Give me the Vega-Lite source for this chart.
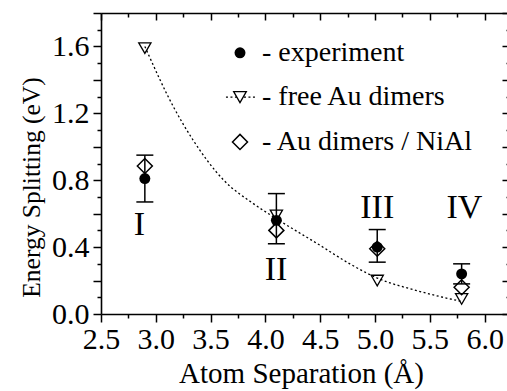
{
  "$schema": "https://vega.github.io/schema/vega-lite/v6.json",
  "autosize": {"type": "none"},
  "padding": {"left": 101, "top": 13, "right": 0, "bottom": 77},
  "width": 407,
  "height": 301,
  "background": "white",
  "config": {
    "view": {"stroke": null},
    "axis": {
      "grid": false,
      "tickColor": "black",
      "tickWidth": 1.5,
      "domainColor": "black",
      "domainWidth": 1.6,
      "labelFont": "Liberation Serif",
      "labelFontSize": 30,
      "labelColor": "black",
      "labelFlush": false,
      "labelOverlap": false,
      "titleFont": "Liberation Serif",
      "titleFontSize": 29,
      "titleFontWeight": "normal",
      "titleColor": "black"
    },
    "axisLeft": {
      "titleFontSize": 25.5,
      "titleX": -62,
      "titleY": 174,
      "titleAngle": -90,
      "titleBaseline": "alphabetic",
      "titleAlign": "center"
    }
  },
  "datasets": {
    "exp": [
      {"x": 2.9, "y": 0.81, "lo": 0.67, "hi": 0.95},
      {"x": 4.1, "y": 0.56, "lo": 0.42, "hi": 0.72},
      {"x": 5.02, "y": 0.40, "lo": 0.31, "hi": 0.505},
      {"x": 5.79, "y": 0.24, "lo": 0.18, "hi": 0.30}
    ],
    "free": [
      {"x": 2.9, "y": 1.59},
      {"x": 4.1, "y": 0.59},
      {"x": 5.02, "y": 0.20},
      {"x": 5.79, "y": 0.09}
    ],
    "nial": [
      {"x": 2.9, "y": 0.885},
      {"x": 4.1, "y": 0.50},
      {"x": 5.02, "y": 0.39},
      {"x": 5.79, "y": 0.16}
    ],
    "curve": [
      {"x": 2.9, "y": 1.60},
      {"x": 3.16, "y": 1.24},
      {"x": 3.34, "y": 1.04},
      {"x": 3.62, "y": 0.80},
      {"x": 3.89, "y": 0.66},
      {"x": 4.1, "y": 0.57},
      {"x": 4.5, "y": 0.41},
      {"x": 4.77, "y": 0.30},
      {"x": 5.02, "y": 0.215},
      {"x": 5.38, "y": 0.14},
      {"x": 5.79, "y": 0.075}
    ],
    "numerals": [
      {"x": 2.85, "y": 0.531, "t": "I"},
      {"x": 4.097, "y": 0.263, "t": "II"},
      {"x": 5.02, "y": 0.631, "t": "III"},
      {"x": 5.815, "y": 0.631, "t": "IV"}
    ],
    "legtext": [
      {"x": 3.969, "y": 1.562, "t": "- experiment"},
      {"x": 3.969, "y": 1.297, "t": "- free Au dimers"},
      {"x": 3.969, "y": 1.029, "t": "- Au dimers / NiAl"}
    ],
    "legline": [
      {"x": 3.64, "y": 1.297},
      {"x": 3.905, "y": 1.297}
    ]
  },
  "resolve": {"axis": {"x": "independent", "y": "independent"}},
  "layer": [
    {
      "data": {"name": "curve"},
      "mark": {"type": "line", "interpolate": "monotone", "strokeDash": [2, 2.5], "color": "black", "strokeWidth": 1.3},
      "encoding": {
        "x": {"field": "x", "type": "quantitative", "scale": {"domain": [2.5, 6.213], "nice": false, "zero": false},
          "axis": {"orient": "bottom", "values": [2.5, 3, 3.5, 4, 4.5, 5, 5.5, 6], "format": ".1f", "tickSize": 8, "labelPadding": 2,
            "title": "Atom Separation (Å)", "titleX": 200, "titleY": 68, "titleBaseline": "alphabetic", "titleAlign": "center"}},
        "y": {"field": "y", "type": "quantitative", "scale": {"domain": [0, 1.8], "nice": false, "zero": false},
          "axis": {"orient": "left", "values": [0, 0.2, 0.4, 0.6, 0.8, 1.0, 1.2, 1.4, 1.6, 1.8], "tickSize": 8, "labelPadding": 4,
            "labelExpr": "round(datum.value*10)%4==0 ? format(datum.value,'.1f') : ''",
            "title": "Energy Splitting (eV)", "titleFontSize": 25.5, "titleX": -62, "titleY": 174}}
      }
    },
    {
      "data": {"name": "free"},
      "mark": {"type": "point", "shape": "triangle-down", "filled": false, "stroke": "black", "strokeWidth": 1.3, "size": 150, "opacity": 1},
      "encoding": {
        "x": {"field": "x", "type": "quantitative", "scale": {"domain": [2.5, 6.213], "nice": false, "zero": false},
          "axis": {"orient": "bottom", "values": [2.75, 3.25, 3.75, 4.25, 4.75, 5.25, 5.75], "tickSize": 4, "labels": false, "domain": false, "title": null}},
        "y": {"field": "y", "type": "quantitative", "scale": {"domain": [0, 1.8], "nice": false, "zero": false},
          "axis": {"orient": "left", "values": [0.1, 0.3, 0.5, 0.7, 0.9, 1.1, 1.3, 1.5, 1.7], "tickSize": 4, "labels": false, "domain": false, "title": null}}
      }
    },
    {
      "data": {"name": "nial"},
      "mark": {"type": "point", "shape": "diamond", "filled": false, "stroke": "black", "strokeWidth": 1.5, "size": 225, "opacity": 1},
      "encoding": {
        "x": {"field": "x", "type": "quantitative", "scale": {"domain": [2.5, 6.213], "nice": false, "zero": false},
          "axis": {"orient": "top", "values": [2.5, 3, 3.5, 4, 4.5, 5, 5.5, 6], "tickSize": -7, "labels": false, "domain": true, "title": null}},
        "y": {"field": "y", "type": "quantitative", "scale": {"domain": [0, 1.8], "nice": false, "zero": false},
          "axis": {"orient": "right", "values": [0, 0.2, 0.4, 0.6, 0.8, 1.0, 1.2, 1.4, 1.6, 1.8], "tickSize": -6, "labels": false, "domain": false, "title": null}}
      }
    },
    {
      "data": {"name": "exp"},
      "mark": {"type": "rule", "color": "black", "strokeWidth": 1.5},
      "encoding": {
        "x": {"field": "x", "type": "quantitative", "scale": {"domain": [2.5, 6.213], "nice": false, "zero": false},
          "axis": {"orient": "top", "values": [2.75, 3.25, 3.75, 4.25, 4.75, 5.25, 5.75], "tickSize": -4, "labels": false, "domain": false, "title": null}},
        "y": {"field": "lo", "type": "quantitative", "scale": {"domain": [0, 1.8], "nice": false, "zero": false},
          "axis": {"orient": "right", "values": [0.1, 0.3, 0.5, 0.7, 0.9, 1.1, 1.3, 1.5, 1.7], "tickSize": -2, "labels": false, "domain": false, "title": null}},
        "y2": {"field": "hi"}
      }
    },
    {
      "data": {"name": "exp"},
      "mark": {"type": "tick", "orient": "horizontal", "size": 17, "thickness": 1.5, "color": "black", "opacity": 1},
      "encoding": {
        "x": {"field": "x", "type": "quantitative", "scale": {"domain": [2.5, 6.213], "nice": false, "zero": false}, "axis": null},
        "y": {"field": "hi", "type": "quantitative", "scale": {"domain": [0, 1.8], "nice": false, "zero": false}, "axis": null}
      }
    },
    {
      "data": {"name": "exp"},
      "mark": {"type": "tick", "orient": "horizontal", "size": 17, "thickness": 1.5, "color": "black", "opacity": 1},
      "encoding": {
        "x": {"field": "x", "type": "quantitative", "scale": {"domain": [2.5, 6.213], "nice": false, "zero": false}, "axis": null},
        "y": {"field": "lo", "type": "quantitative", "scale": {"domain": [0, 1.8], "nice": false, "zero": false}, "axis": null}
      }
    },
    {
      "data": {"name": "exp"},
      "mark": {"type": "point", "shape": "circle", "filled": true, "color": "black", "size": 120, "opacity": 1},
      "encoding": {
        "x": {"field": "x", "type": "quantitative", "scale": {"domain": [2.5, 6.213], "nice": false, "zero": false}, "axis": null},
        "y": {"field": "y", "type": "quantitative", "scale": {"domain": [0, 1.8], "nice": false, "zero": false}, "axis": null}
      }
    },
    {
      "data": {"name": "numerals"},
      "mark": {"type": "text", "font": "Liberation Serif", "fontSize": 34, "color": "black", "align": "center", "baseline": "middle"},
      "encoding": {
        "x": {"field": "x", "type": "quantitative", "scale": {"domain": [2.5, 6.213], "nice": false, "zero": false}, "axis": null},
        "y": {"field": "y", "type": "quantitative", "scale": {"domain": [0, 1.8], "nice": false, "zero": false}, "axis": null},
        "text": {"field": "t"}
      }
    },
    {
      "data": {"name": "legline"},
      "mark": {"type": "line", "strokeDash": [2, 2.5], "color": "black", "strokeWidth": 1.3},
      "encoding": {
        "x": {"field": "x", "type": "quantitative", "scale": {"domain": [2.5, 6.213], "nice": false, "zero": false}, "axis": null},
        "y": {"field": "y", "type": "quantitative", "scale": {"domain": [0, 1.8], "nice": false, "zero": false}, "axis": null}
      }
    },
    {
      "data": {"values": [{"x": 3.768, "y": 1.562}]},
      "mark": {"type": "point", "shape": "circle", "filled": true, "color": "black", "size": 120, "opacity": 1},
      "encoding": {
        "x": {"field": "x", "type": "quantitative", "scale": {"domain": [2.5, 6.213], "nice": false, "zero": false}, "axis": null},
        "y": {"field": "y", "type": "quantitative", "scale": {"domain": [0, 1.8], "nice": false, "zero": false}, "axis": null}
      }
    },
    {
      "data": {"values": [{"x": 3.768, "y": 1.297}]},
      "mark": {"type": "point", "shape": "triangle-down", "filled": true, "fill": "white", "stroke": "black", "strokeWidth": 1.3, "size": 160, "opacity": 1},
      "encoding": {
        "x": {"field": "x", "type": "quantitative", "scale": {"domain": [2.5, 6.213], "nice": false, "zero": false}, "axis": null},
        "y": {"field": "y", "type": "quantitative", "scale": {"domain": [0, 1.8], "nice": false, "zero": false}, "axis": null}
      }
    },
    {
      "data": {"values": [{"x": 3.768, "y": 1.029}]},
      "mark": {"type": "point", "shape": "diamond", "filled": false, "stroke": "black", "strokeWidth": 1.5, "size": 225, "opacity": 1},
      "encoding": {
        "x": {"field": "x", "type": "quantitative", "scale": {"domain": [2.5, 6.213], "nice": false, "zero": false}, "axis": null},
        "y": {"field": "y", "type": "quantitative", "scale": {"domain": [0, 1.8], "nice": false, "zero": false}, "axis": null}
      }
    },
    {
      "data": {"name": "legtext"},
      "mark": {"type": "text", "font": "Liberation Serif", "fontSize": 28, "color": "black", "align": "left", "baseline": "middle"},
      "encoding": {
        "x": {"field": "x", "type": "quantitative", "scale": {"domain": [2.5, 6.213], "nice": false, "zero": false}, "axis": null},
        "y": {"field": "y", "type": "quantitative", "scale": {"domain": [0, 1.8], "nice": false, "zero": false}, "axis": null},
        "text": {"field": "t"}
      }
    }
  ]
}
